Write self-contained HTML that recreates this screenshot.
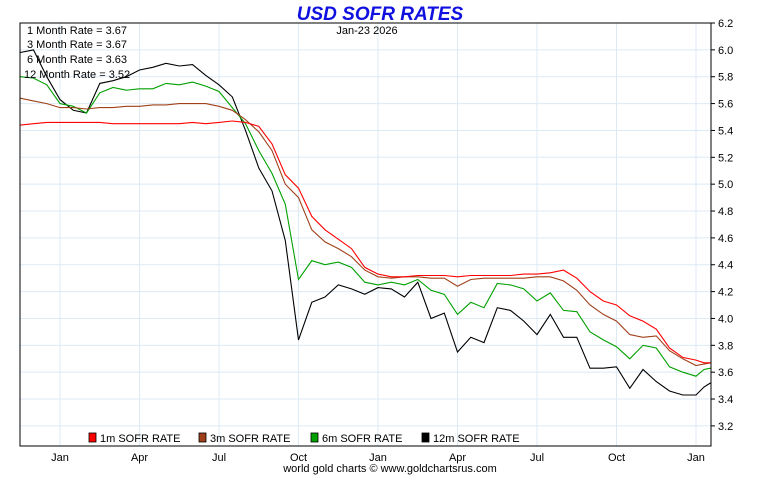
<!DOCTYPE html>
<html><head><meta charset="utf-8"><style>
body{margin:0;background:#fff;font-family:"Liberation Sans",sans-serif}
svg text{font-family:"Liberation Sans",sans-serif}
</style></head><body>
<svg id="chart" width="760" height="475" xmlns="http://www.w3.org/2000/svg">
<rect width="760" height="475" fill="#fff"/>
<text x="380" y="20" text-anchor="middle" font-size="19" font-weight="bold" font-style="italic" fill="#1010e0">USD SOFR RATES</text>
<g id="grid"></g><g id="series"></g>
<rect x="20" y="23" width="691" height="423" fill="none" stroke="#000" stroke-width="1"/>
<g id="axes"></g>
<text x="367" y="34" text-anchor="middle" font-size="11" fill="#000">Jan-23  2026</text>
<g font-size="11" fill="#000">
<text x="27" y="34">1 Month Rate = 3.67</text>
<text x="27" y="48">3 Month Rate = 3.67</text>
<text x="27" y="63">6 Month Rate = 3.63</text>
<text x="24" y="78">12 Month Rate = 3.52</text>
</g>
<g id="legend" font-size="11"></g>
<text x="390" y="472" text-anchor="middle" font-size="11" fill="#000">world gold charts © www.goldchartsrus.com</text>
</svg>
<script>
const months = [-1.5,-1,-0.5,0,0.5,1,1.5,2,2.5,3,3.5,4,4.5,5,5.5,6,6.5,7,7.5,8,8.5,9,9.5,10,10.5,11,11.5,12,12.5,13,13.5,14,14.5,15,15.5,16,16.5,17,17.5,18,18.5,19,19.5,20,20.5,21,21.5,22,22.5,23,23.5,24,24.3,24.55];
const rate1m = [5.44,5.45,5.46,5.46,5.46,5.46,5.46,5.45,5.45,5.45,5.45,5.45,5.45,5.46,5.45,5.46,5.47,5.46,5.43,5.30,5.07,4.97,4.76,4.66,4.59,4.52,4.38,4.33,4.31,4.31,4.32,4.32,4.32,4.31,4.32,4.32,4.32,4.32,4.33,4.33,4.34,4.36,4.30,4.20,4.13,4.10,4.02,3.98,3.92,3.78,3.71,3.69,3.67,3.67];
const rate3m = [5.64,5.62,5.60,5.57,5.57,5.56,5.57,5.57,5.58,5.58,5.59,5.59,5.60,5.60,5.60,5.58,5.55,5.48,5.39,5.25,5.00,4.90,4.66,4.57,4.52,4.46,4.36,4.31,4.30,4.31,4.31,4.30,4.30,4.24,4.29,4.30,4.30,4.30,4.30,4.31,4.31,4.28,4.21,4.10,4.03,3.98,3.88,3.86,3.87,3.76,3.70,3.65,3.66,3.67];
const rate6m = [5.80,5.79,5.74,5.60,5.58,5.53,5.68,5.72,5.70,5.71,5.71,5.75,5.74,5.76,5.73,5.69,5.57,5.45,5.25,5.08,4.85,4.29,4.43,4.40,4.42,4.38,4.27,4.25,4.27,4.25,4.29,4.21,4.18,4.03,4.12,4.08,4.26,4.25,4.22,4.13,4.19,4.06,4.05,3.90,3.84,3.79,3.70,3.80,3.78,3.64,3.60,3.57,3.62,3.63];
const rate12m = [5.98,6.00,5.80,5.63,5.55,5.53,5.75,5.77,5.80,5.85,5.87,5.90,5.88,5.89,5.81,5.74,5.65,5.40,5.12,4.95,4.58,3.84,4.12,4.16,4.25,4.22,4.18,4.23,4.22,4.16,4.27,4.00,4.04,3.75,3.86,3.82,4.08,4.06,3.98,3.88,4.03,3.86,3.86,3.63,3.63,3.64,3.48,3.62,3.53,3.46,3.43,3.43,3.49,3.52];
const yTicks = [3.2,3.4,3.6,3.8,4.0,4.2,4.4,4.6,4.8,5.0,5.2,5.4,5.6,5.8,6.0,6.2];
const xTickMonths = [0,3,6,9,12,15,18,21,24];
const xTickLabels = ["Jan","Apr","Jul","Oct","Jan","Apr","Jul","Oct","Jan"];
const seriesNames = ["1m SOFR RATE","3m SOFR RATE","6m SOFR RATE","12m SOFR RATE"];
const seriesColors = ["#ff0000","#a0401a","#00a000","#000000"];

const NS="http://www.w3.org/2000/svg";
const xS = t => 60 + t*26.5;
const yS = v => 23 + (6.2 - v)*134.3;
function mk(tag, attrs, parent){const e=document.createElementNS(NS,tag);for(const k in attrs)e.setAttribute(k,attrs[k]);parent.appendChild(e);return e;}
const grid=document.getElementById('grid'), axes=document.getElementById('axes');
yTicks.forEach(v=>{
  const l=mk('line',{x1:20,x2:711,y1:yS(v),y2:yS(v),stroke:'#dceaf6','stroke-width':1},grid);
  
  
  mk('line',{x1:711,x2:715,y1:yS(v),y2:yS(v),stroke:'#000'},axes);
  const t=mk('text',{x:718,y:yS(v)+4,'font-size':11},axes);
  t.textContent=v.toFixed(1);
  
  
});
xTickMonths.forEach((m,i)=>{
  const l=mk('line',{x1:xS(m),x2:xS(m),y1:23,y2:446,stroke:'#dceaf6','stroke-width':1},grid);
  
  
  const t=mk('text',{x:xS(m),y:461,'font-size':11,'text-anchor':'middle'},axes);
  t.textContent=xTickLabels[i];
  
  
});
const allSeries=[rate1m,rate3m,rate6m,rate12m];
const sg=document.getElementById('series');
for(let s=allSeries.length-1;s>=0;s--){
  const d=allSeries[s].map((v,i)=>(i?'L':'M')+xS(months[i]).toFixed(1)+','+yS(v).toFixed(1)).join('');
  const p=mk('path',{d:d,fill:'none',stroke:seriesColors[s],'stroke-width':1.1},sg);
  
  
}
const lg=document.getElementById('legend');
const lx=[89,199,311,422];
seriesNames.forEach((n,i)=>{
  const r=mk('rect',{x:lx[i],y:433,width:7,height:9,fill:seriesColors[i],stroke:'#000','stroke-width':0.8},lg);
  
  
  const t=mk('text',{x:lx[i]+11,y:442},lg);
  t.textContent=n;
  
  
});
</script>
</body></html>
